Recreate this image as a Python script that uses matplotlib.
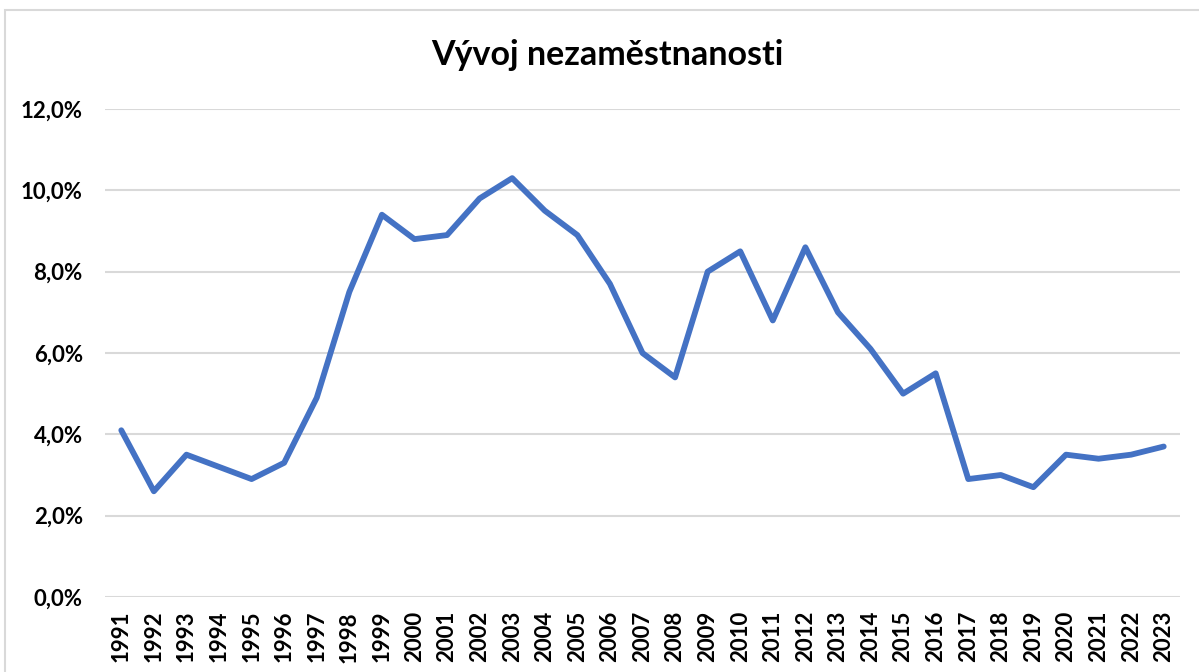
import matplotlib
matplotlib.use("Agg")
import matplotlib.pyplot as plt
from matplotlib.patches import Rectangle
from matplotlib.ticker import FuncFormatter

years = [str(y) for y in range(1991, 2024)]
unemployment = [4.1, 2.6, 3.5, 3.2, 2.9, 3.3, 4.9, 7.5, 9.4, 8.8, 8.9, 9.8, 10.3,
                9.5, 8.9, 7.7, 6.0, 5.4, 8.0, 8.5, 6.8, 8.6, 7.0, 6.1, 5.0, 5.5,
                2.9, 3.0, 2.7, 3.5, 3.4, 3.5, 3.7]
title = "Vývoj nezaměstnanosti"

plt.rcParams['font.family'] = ['Lato', 'DejaVu Sans']

fig = plt.figure(figsize=(11.99, 6.72), dpi=100)
fig.patches.append(Rectangle((5/1199, -0.1), 1.2, 1 - 10/672 + 0.1, transform=fig.transFigure,
                             fill=False, edgecolor='#D9D9D9', linewidth=1.5))
ax = fig.add_axes([105/1199, 1 - 597/672, (1180 - 105)/1199, (597 - 109)/672])

x = list(range(len(years)))
ax.plot(x, unemployment, color='#4472C4', linewidth=4.2, solid_capstyle='round', solid_joinstyle='round', zorder=3)

ax.set_xlim(-0.5, len(years) - 0.5)
ax.set_ylim(0, 12)
ax.set_yticks([0, 2, 4, 6, 8, 10, 12])
ax.yaxis.set_major_formatter(FuncFormatter(lambda v, p: f"{v:.1f}%".replace('.', ',')))
ax.set_xticks(x)
ax.set_xticklabels(years, rotation=90)
ax.grid(axis='y', color='#D9D9D9', linewidth=1.5)
ax.set_axisbelow(True)
for s in ax.spines.values():
    s.set_visible(False)
ax.tick_params(axis='both', length=0, labelsize=16)
ax.tick_params(axis='y', pad=16)
ax.tick_params(axis='x', pad=10)
for lab in ax.get_xticklabels() + ax.get_yticklabels():
    lab.set_fontweight('bold')

fig.text(607/1199, 1 - 55/672, title, ha='center', va='center', fontsize=24.5, fontweight='bold')

fig.savefig('out.png', dpi=100)
